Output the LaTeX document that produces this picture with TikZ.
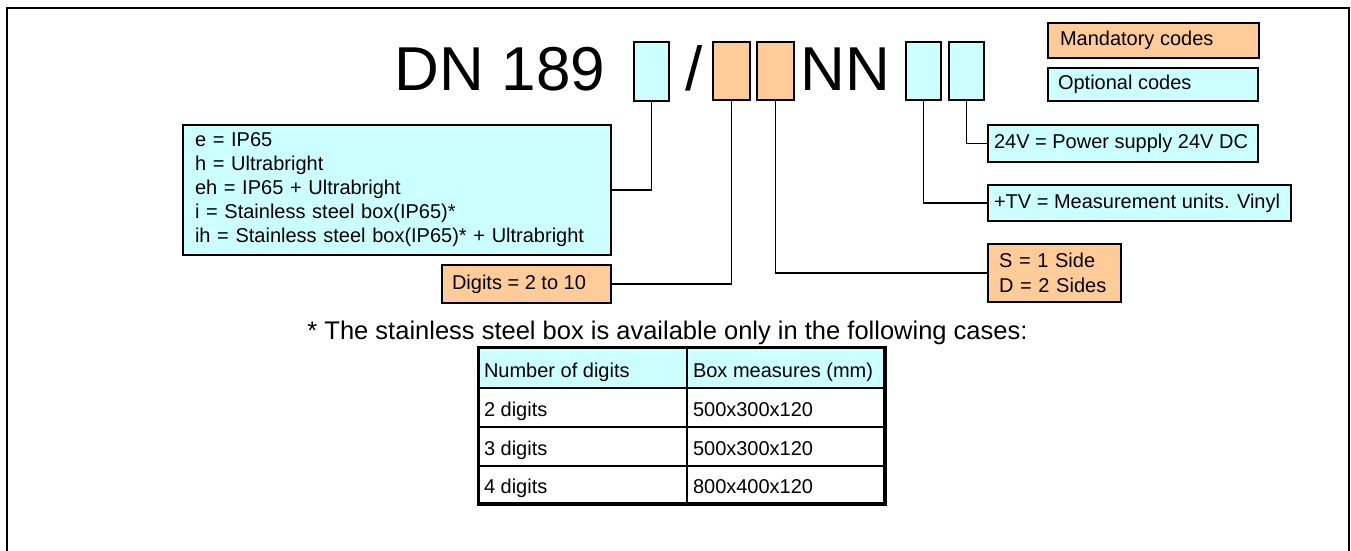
\documentclass[tikz,border=0pt]{standalone}
\usepackage{fontspec}
\setmainfont{Liberation Sans}
\definecolor{optc}{HTML}{CCFFFF}
\definecolor{mandc}{HTML}{FFCC99}
\begin{document}
\begin{tikzpicture}[x=1pt,y=-1pt,
  codebox/.style={draw=black, line width=1.6pt, minimum width=35pt, minimum height=59pt, inner sep=0pt},
  txtbox/.style={draw=black, line width=1.4pt, inner sep=0pt, font=\fontsize{20}{24}\selectfont},
  link/.style={draw=black, line width=1.8pt},
  tcell/.style={draw=black, line width=2pt, inner sep=0pt, text height=18pt, text depth=0pt, font=\fontsize{20}{24}\selectfont},
  big/.style={inner sep=0pt, anchor=base, font=\fontsize{62}{62}\selectfont}]
\useasboundingbox (0,0) rectangle (1351,551);
% frame
\draw[line width=2pt] (7,560) -- (7,8) -- (1349,8) -- (1349,560);
% code line
\node[big] (dn) at (500,90) {DN 189};
\node[big] (slash) at (694.5,90) {/};
\node[big] (nn) at (845,90) {NN};
\node[codebox, fill=optc] (c1) at (651.5,71.5) {};
\node[codebox, fill=mandc, minimum width=37pt, minimum height=58pt] (o1) at (731.5,71) {};
\node[codebox, fill=mandc, minimum width=37pt, minimum height=58pt] (o2) at (775.5,71) {};
\node[codebox, fill=optc, minimum height=58pt] (c2) at (923.5,71) {};
\node[codebox, fill=optc, minimum height=58pt] (c3) at (966.5,71) {};
% legend
\node[txtbox, fill=mandc, minimum width=211pt, minimum height=35pt] (leg1) at (1153.5,40.5) {\makebox[187pt][l]{Mandatory codes}};
\node[txtbox, fill=optc, minimum width=210pt, minimum height=33pt] (leg2) at (1153,84.5) {\makebox[190pt][l]{Optional codes}};
% explanation boxes
\node[txtbox, fill=optc, minimum width=428pt, minimum height=130pt, text width=404pt, align=left] (bigbox) at (397,190)
  {e = IP65\\h = Ultrabright\\eh = IP65 + Ultrabright\\i = Stainless steel box(IP65)*\\ih = Stainless steel box(IP65)* + Ultrabright};
\node[txtbox, fill=mandc, minimum width=169pt, minimum height=38pt] (digits) at (526.5,284) {\makebox[149pt][l]{Digits = 2 to 10}};
\node[txtbox, fill=optc, minimum width=270pt, minimum height=37pt] (v24) at (1123,143.5) {\makebox[258pt][l]{24V = Power supply 24V DC}};
\node[txtbox, fill=optc, minimum width=303pt, minimum height=36pt] (tv) at (1139.5,203) {\makebox[291pt][l]{+TV = Measurement units. Vinyl}};
\node[txtbox, fill=mandc, minimum width=133pt, minimum height=58pt, text width=111pt, align=left, font=\fontsize{20}{25}\selectfont] (sd) at (1054.5,273)
  {S = 1 Side\\D = 2 Sides};
% connectors
\draw[link] (c1.south) |- (bigbox.east);
\draw[link] (o1.south) |- (digits.east);
\draw[link] (o2.south) |- (sd.west);
\draw[link] (c2.south) |- (tv.west);
\draw[link] (c3.south) |- (v24.west);
% footnote
\node[inner sep=0pt, anchor=base, font=\fontsize{25.5}{30}\selectfont] (note) at (667.5,339) {* The stainless steel box is available only in the following cases:};
% table
\node[tcell, fill=optc, minimum width=208pt, minimum height=40pt] (h1) at (583,368) {\makebox[198pt][l]{Number of digits}};
\node[tcell, fill=optc, minimum width=197pt, minimum height=40pt] (h2) at (785.5,368) {\makebox[185pt][l]{Box measures (mm)}};
\node[tcell, minimum width=208pt, minimum height=39pt] (r2a) at (583,407.5) {\makebox[198pt][l]{2 digits}};
\node[tcell, minimum width=197pt, minimum height=39pt] (r2b) at (785.5,407.5) {\makebox[185pt][l]{500x300x120}};
\node[tcell, minimum width=208pt, minimum height=39pt] (r3a) at (583,446.5) {\makebox[198pt][l]{3 digits}};
\node[tcell, minimum width=197pt, minimum height=39pt] (r3b) at (785.5,446.5) {\makebox[185pt][l]{500x300x120}};
\node[tcell, minimum width=208pt, minimum height=37pt] (r4a) at (583,484.5) {\makebox[198pt][l]{4 digits}};
\node[tcell, minimum width=197pt, minimum height=37pt] (r4b) at (785.5,484.5) {\makebox[185pt][l]{800x400x120}};
\draw[line width=3pt] (h1.north west) rectangle (r4b.south east);
\end{tikzpicture}
\end{document}
